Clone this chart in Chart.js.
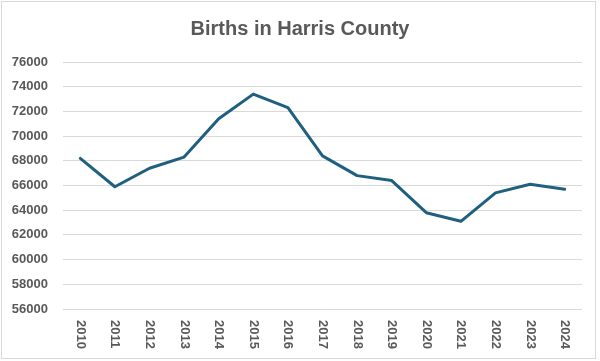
<!DOCTYPE html>
<html>
<head>
<meta charset="utf-8">
<script src="https://cdn.jsdelivr.net/npm/chart.js@4"></script>
<style>
  html, body { margin: 0; padding: 0; background: #fff; }
  #wrap { width: 600px; height: 361px; position: relative; }
</style>
</head>
<body>
<div id="wrap"><canvas id="c"></canvas></div>
<script>
const years = ['2010','2011','2012','2013','2014','2015','2016','2017','2018','2019','2020','2021','2022','2023','2024'];
const births = [68200, 65900, 67400, 68300, 71400, 73400, 72300, 68400, 66800, 66400, 63800, 63100, 65400, 66100, 65700];
const yMin = 56000;
const yMax = 76000;
const yStep = 2000;
const titleText = 'Births in Harris County';

const textColor = '#595959';
const tickFont = { family: "'Liberation Sans', Arial, sans-serif", size: 13, weight: 'bold' };

const borderPlugin = {
  id: 'frame',
  beforeDraw(chart) {
    const ctx = chart.ctx;
    ctx.save();
    ctx.fillStyle = '#fff';
    ctx.fillRect(0, 0, chart.width, chart.height);
    ctx.strokeStyle = '#d9d9d9';
    ctx.lineWidth = 1;
    ctx.strokeRect(1.5, 1.5, 594, 357);
    ctx.restore();
  }
};

const centeredTitlePlugin = {
  id: 'centeredTitle',
  afterDraw(chart) {
    const ctx = chart.ctx;
    const t = chart.titleBlock;
    ctx.save();
    ctx.fillStyle = textColor;
    ctx.font = 'bold 20px "Liberation Sans", Arial, sans-serif';
    ctx.textAlign = 'center';
    ctx.textBaseline = 'alphabetic';
    ctx.fillText(titleText, chart.width / 2, t.top + 35);
    ctx.restore();
  }
};

const xLabelPlugin = {
  id: 'xlabels',
  afterDraw(chart) {
    const xs = chart.scales.x;
    const ctx = chart.ctx;
    ctx.save();
    ctx.fillStyle = textColor;
    ctx.font = 'bold 13px "Liberation Sans", Arial, sans-serif';
    ctx.textAlign = 'left';
    ctx.textBaseline = 'middle';
    years.forEach((lab, i) => {
      const x = xs.getPixelForValue(i);
      ctx.save();
      ctx.translate(x, xs.top + 11);
      ctx.rotate(Math.PI / 2);
      ctx.fillText(lab, 0, 0);
      ctx.restore();
    });
    ctx.restore();
  }
};

new Chart(document.getElementById('c'), {
  type: 'line',
  data: {
    labels: years,
    datasets: [{
      data: births,
      borderColor: '#1F5F7F',
      backgroundColor: '#1F5F7F',
      borderWidth: 3,
      pointRadius: 0,
      tension: 0,
      borderCapStyle: 'round',
      borderJoinStyle: 'round'
    }]
  },
  options: {
    responsive: true,
    maintainAspectRatio: false,
    animation: false,
    devicePixelRatio: 1,
    layout: { padding: { left: 10, right: 18, top: 0, bottom: 2 } },
    plugins: {
      legend: { display: false },
      tooltip: { enabled: false },
      title: {
        display: true,
        text: titleText,
        color: 'rgba(0,0,0,0)',
        font: { family: "'Liberation Sans', Arial, sans-serif", size: 20, weight: 'bold' },
        padding: { top: 16, bottom: 22 }
      }
    },
    scales: {
      x: {
        offset: true,
        grid: { display: false },
        border: { display: false },
        ticks: { display: false },
        afterFit(scale) { scale.height = 50; }
      },
      y: {
        min: yMin,
        max: yMax,
        ticks: {
          stepSize: yStep,
          color: textColor,
          font: tickFont,
          padding: 15,
          callback: v => String(v)
        },
        grid: { color: '#d9d9d9', lineWidth: 1, drawTicks: false },
        border: { display: false },
        afterFit(scale) { scale.width = 53; }
      }
    }
  },
  plugins: [borderPlugin, centeredTitlePlugin, xLabelPlugin]
});
</script>
</body>
</html>
